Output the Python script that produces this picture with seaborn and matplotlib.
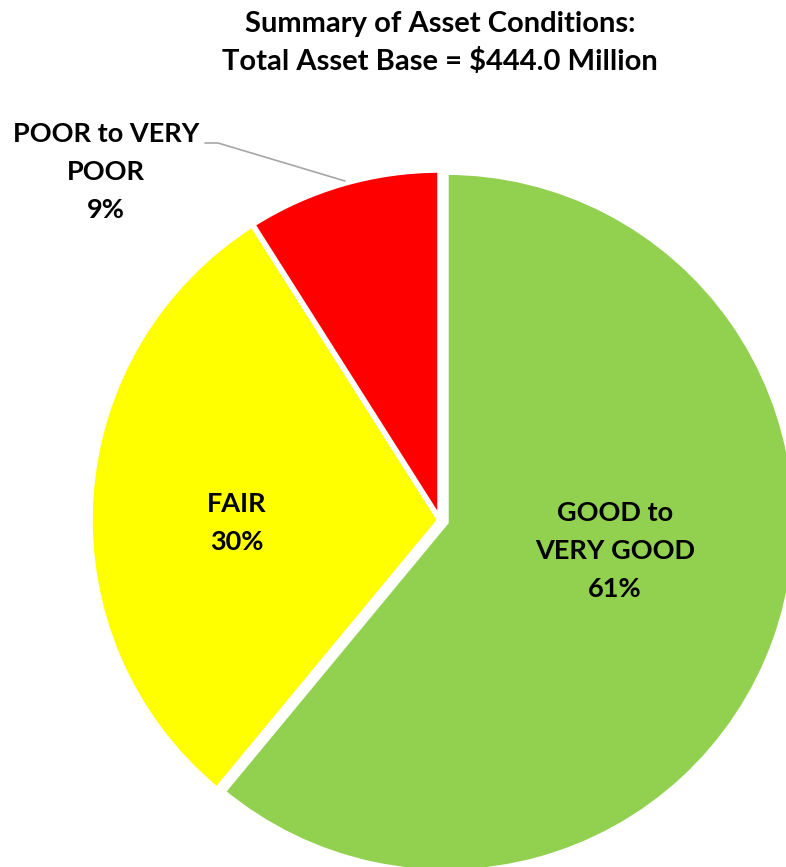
import matplotlib
matplotlib.use("Agg")
import matplotlib.pyplot as plt
import seaborn as sns

categories = ["GOOD to\nVERY GOOD", "FAIR", "POOR to VERY\nPOOR"]
values = [61, 30, 9]
colors = ["#92D050", "#FFFF00", "#FF0000"]
explode = [0.018, 0, 0]
title = "Summary of Asset Conditions:\nTotal Asset Base = $444.0 Million"

sns.set_theme(style="white")
plt.rcParams["font.family"] = ["Lato", "DejaVu Sans"]

W, H = 786, 867
fig = plt.figure(figsize=(W / 100, H / 100), dpi=100)
ax = fig.add_axes([0, 0, 1, 1])
cx, cy, R = 440, 520, 350

def px(x, y):
    return (x - cx) / R, (cy - y) / R

wedges, _ = ax.pie(values, colors=colors, startangle=90, counterclock=False,
                   explode=explode, radius=1.0,
                   wedgeprops=dict(edgecolor="white", linewidth=4))
ax.set_xlim(-cx / R, (W - cx) / R)
ax.set_ylim((cy - H) / R, cy / R)
ax.set_aspect("auto")
ax.axis("off")

tx, ty = px(440, 43)
ax.text(tx, ty, title, ha="center", va="center", fontsize=21, fontweight="bold",
        linespacing=1.47, color="black")

labels = [f"{c}\n{v}%" for c, v in zip(categories, values)]
pos = [(615, 551), (237, 523), (106, 172)]
for lab, (x, y) in zip(labels, pos):
    dx, dy = px(x, y)
    ax.text(dx, dy, lab, ha="center", va="center", fontsize=19.5, fontweight="bold",
            linespacing=1.72, color="black")

# leader line for small slice
lx = [px(205, 143)[0], px(218, 143)[0], px(345, 181)[0]]
ly = [px(205, 143)[1], px(218, 143)[1], px(345, 181)[1]]
ax.plot(lx, ly, color="#A6A6A6", linewidth=1.2)

fig.savefig("out.png", dpi=100)
